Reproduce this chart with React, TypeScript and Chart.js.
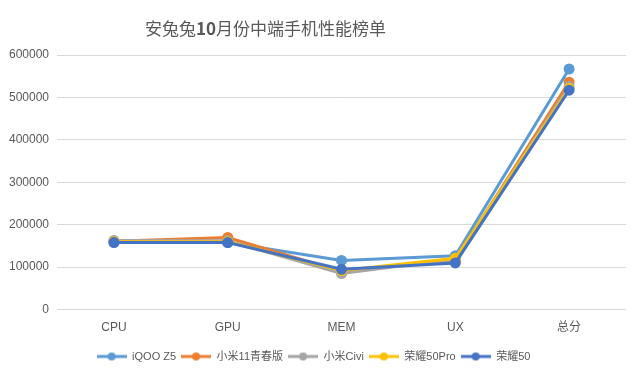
import React, { useEffect, useRef } from "react";
import { Chart, registerables } from "chart.js";

Chart.register(...registerables);

const categories = ["CPU", "GPU", "MEM", "UX", "总分"];
const seriesNames = ["iQOO Z5", "小米11青春版", "小米Civi", "荣耀50Pro", "荣耀50"];
const iqooZ5 = [159000, 158000, 116000, 127000, 567000];
const mi11Youth = [161000, 170000, 90000, 116000, 536000];
const miCivi = [163000, 162000, 85000, 119000, 526000];
const honor50Pro = [160000, 160000, 92000, 121000, 521000];
const honor50 = [158000, 158000, 95000, 110000, 517000];
const yTicks = [0, 100000, 200000, 300000, 400000, 500000, 600000];
const colors = ["#5B9BD5", "#ED7D31", "#A5A5A5", "#FFC000", "#4472C4"];

function markerCanvas(color: string) {
  const c = document.createElement("canvas");
  c.width = 30;
  c.height = 10;
  const ctx = c.getContext("2d")!;
  ctx.strokeStyle = color;
  ctx.lineWidth = 3;
  ctx.beginPath();
  ctx.moveTo(0, 5);
  ctx.lineTo(30, 5);
  ctx.stroke();
  ctx.fillStyle = color;
  ctx.beginPath();
  ctx.arc(15, 5, 4, 0, Math.PI * 2);
  ctx.fill();
  return c;
}

export default function App() {
  const ref = useRef<HTMLCanvasElement>(null);
  useEffect(() => {
    const all = [iqooZ5, mi11Youth, miCivi, honor50Pro, honor50];
    const markers = colors.map(markerCanvas);
    const chart = new Chart(ref.current!, {
      type: "line",
      data: {
        labels: categories,
        datasets: all.map((d, i) => ({
          label: seriesNames[i],
          data: d,
          borderColor: colors[i],
          backgroundColor: colors[i],
          borderWidth: 3,
          pointRadius: 4,
          pointBackgroundColor: colors[i],
          pointBorderColor: colors[i],
          tension: 0,
          order: 4 - i,
        })),
      },
      options: {
        animation: false,
        responsive: false,
        layout: { padding: { top: 55, right: 14, left: 1, bottom: 5 } },
        plugins: {
          title: { display: false },
          tooltip: { enabled: false },
          legend: {
            position: "bottom",
            labels: {
              usePointStyle: true,
              pointStyleWidth: 30,
              padding: 5,
              color: "#595959",
              font: { size: 11, family: "'Liberation Sans', 'Noto Sans CJK SC', sans-serif" },
              generateLabels: (ch: any) =>
                ch.data.datasets.map((ds: any, i: number) => ({
                  text: ds.label,
                  fillStyle: colors[i],
                  strokeStyle: colors[i],
                  pointStyle: markers[i],
                  fontColor: "#595959",
                  lineWidth: 0,
                  hidden: false,
                  datasetIndex: i,
                })),
            },
          },
        },
        scales: {
          x: {
            offset: true,
            grid: { display: false },
            border: { display: false },
            afterFit: (s: any) => {
              s.height += 8;
            },
            ticks: {
              color: "#595959",
              padding: 3,
              font: { size: 12, family: "'Liberation Sans', 'Noto Sans CJK SC', sans-serif" },
            },
          },
          y: {
            min: 0,
            max: 600000,
            afterBuildTicks: (axis: any) => {
              axis.ticks = yTicks.map((v) => ({ value: v }));
            },
            grid: { color: "#D9D9D9", lineWidth: 1, drawTicks: false },
            border: { display: false },
            ticks: {
              color: "#595959",
              padding: 8,
              font: { size: 12, family: "'Liberation Sans', sans-serif" },
              callback: (v: any) => String(v),
            },
          },
        },
      },
    });
    return () => chart.destroy();
  }, []);
  return (
    <div style={{ position: "fixed", left: 0, top: 0, width: 640, height: 377, background: "#fff" }}>
      <div
        style={{
          position: "absolute",
          top: 16,
          left: 145,
          fontFamily: "'Noto Sans CJK SC', sans-serif",
          fontSize: 17,
          color: "#595959",
          whiteSpace: "nowrap",
          lineHeight: "24px",
        }}
      >
        安兔兔<b>10</b>月份中端手机性能榜单
      </div>
      <canvas ref={ref} width={640} height={377} style={{ display: "block" }} />
    </div>
  );
}
